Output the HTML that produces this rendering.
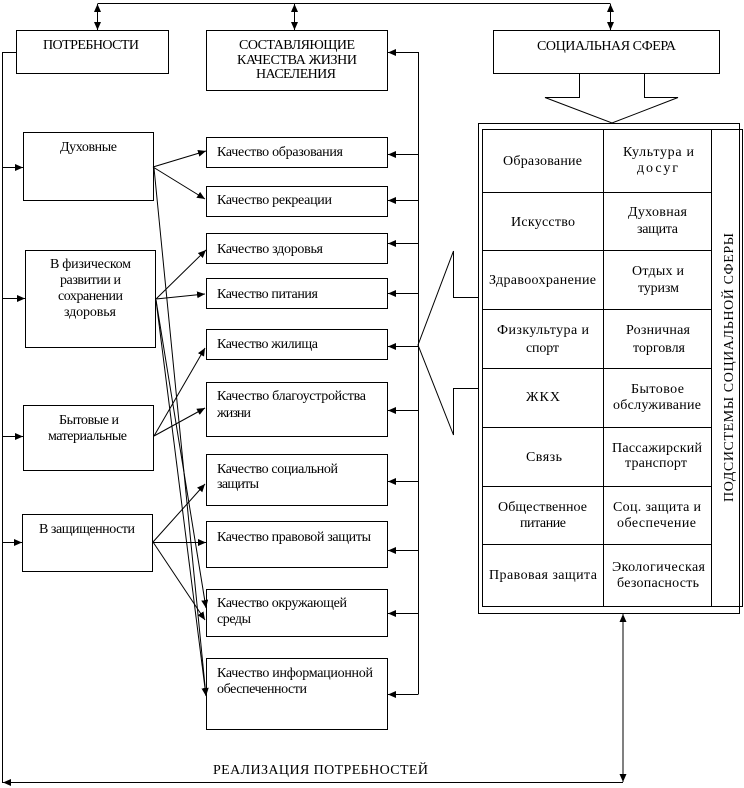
<!DOCTYPE html>
<html><head><meta charset="utf-8"><style>
html,body{margin:0;padding:0;background:#fff;}
svg{display:block;}
text{font-family:"Liberation Serif","DejaVu Serif",serif;font-size:14px;fill:#000;}
</style></head><body>
<svg width="744" height="788" viewBox="0 0 744 788" xmlns="http://www.w3.org/2000/svg">
<defs>
<marker id="a" markerUnits="userSpaceOnUse" markerWidth="9" markerHeight="8" refX="8" refY="3.5" orient="auto-start-reverse"><path d="M0,0 L8,3.5 L0,7 z" fill="#000"/></marker>
</defs>
<g fill="none" stroke="#000" stroke-width="1" shape-rendering="crispEdges">
<rect x="16.5" y="30.5" width="152" height="43"/>
<rect x="206.5" y="30.5" width="181" height="60"/>
<rect x="493.5" y="30.5" width="226" height="43"/>
<rect x="23.5" y="132.5" width="130" height="68"/>
<rect x="25.5" y="250.5" width="130" height="97"/>
<rect x="23.5" y="405.5" width="130" height="65"/>
<rect x="22.5" y="514.5" width="130" height="57"/>
<rect x="206.5" y="137.5" width="181" height="30"/>
<rect x="206.5" y="186.5" width="181" height="30"/>
<rect x="206.5" y="233.5" width="181" height="30"/>
<rect x="206.5" y="278.5" width="181" height="30"/>
<rect x="206.5" y="329.5" width="181" height="30"/>
<rect x="206.5" y="382.5" width="181" height="54"/>
<rect x="206.5" y="454.5" width="181" height="51"/>
<rect x="206.5" y="521.5" width="181" height="46"/>
<rect x="206.5" y="589.5" width="181" height="47"/>
<rect x="206.5" y="658.5" width="181" height="71"/>
<rect x="478.5" y="123.5" width="261" height="490"/>
<rect x="482.5" y="129.5" width="260" height="477"/>
<line x1="603.5" y1="129" x2="603.5" y2="606"/>
<line x1="711.5" y1="129" x2="711.5" y2="606"/>
<line x1="482" y1="192.5" x2="711" y2="192.5"/>
<line x1="482" y1="250.5" x2="711" y2="250.5"/>
<line x1="482" y1="309.5" x2="711" y2="309.5"/>
<line x1="482" y1="368.5" x2="711" y2="368.5"/>
<line x1="482" y1="427.5" x2="711" y2="427.5"/>
<line x1="482" y1="486.5" x2="711" y2="486.5"/>
<line x1="482" y1="544.5" x2="711" y2="544.5"/>
<polyline points="97.5,3.5 610.5,3.5"/>
<polyline points="16,52.5 2.5,52.5 2.5,782.5 623,782.5"/>
<polyline points="418.5,52 418.5,694.5"/>
</g>
<g fill="none" stroke="#000" stroke-width="1">
<polyline points="579.5,73 579.5,97.5 545,97.5 612,123 678,97.5 644.5,97.5 644.5,73"/>
<polyline points="478,297.5 453.5,297.5 453.5,251 418,345 453.5,435 453.5,388.5 478,388.5"/>
</g>
<g fill="none" stroke="#000" stroke-width="1" marker-end="url(#a)">
<line x1="97.5" y1="4" x2="97.5" y2="30" marker-start="url(#a)"/>
<line x1="294.5" y1="4" x2="294.5" y2="30" marker-start="url(#a)"/>
<line x1="610.5" y1="4" x2="610.5" y2="30" marker-start="url(#a)"/>
<line x1="623" y1="614" x2="623" y2="782" marker-start="url(#a)"/>
<line x1="20" y1="782.5" x2="3" y2="782.5"/>
<line x1="2.5" y1="167.5" x2="23" y2="167.5"/>
<line x1="2.5" y1="298.5" x2="25" y2="298.5"/>
<line x1="2.5" y1="436.5" x2="23" y2="436.5"/>
<line x1="2.5" y1="542.5" x2="22" y2="542.5"/>
<line x1="418" y1="52.5" x2="388" y2="52.5"/>
<line x1="418" y1="154.5" x2="388" y2="154.5"/>
<line x1="418" y1="200.5" x2="388" y2="200.5"/>
<line x1="418" y1="243.5" x2="388" y2="243.5"/>
<line x1="418" y1="293.5" x2="388" y2="293.5"/>
<line x1="418" y1="346.5" x2="388" y2="346.5"/>
<line x1="418" y1="410.5" x2="388" y2="410.5"/>
<line x1="418" y1="481.5" x2="388" y2="481.5"/>
<line x1="418" y1="550.5" x2="388" y2="550.5"/>
<line x1="418" y1="613.5" x2="388" y2="613.5"/>
<line x1="418" y1="694.5" x2="388" y2="694.5"/>
<line x1="153" y1="167" x2="206" y2="151"/>
<line x1="153" y1="167" x2="205" y2="199"/>
<line x1="154" y1="168" x2="206" y2="696"/>
<line x1="156" y1="299" x2="206" y2="250"/>
<line x1="156" y1="299" x2="205" y2="294"/>
<line x1="156" y1="300" x2="206" y2="608"/>
<line x1="156" y1="300" x2="206" y2="696"/>
<line x1="154" y1="436" x2="205" y2="348"/>
<line x1="154" y1="436" x2="205" y2="408"/>
<line x1="153" y1="542" x2="205" y2="484"/>
<line x1="153" y1="542.5" x2="206" y2="542.5"/>
<line x1="153" y1="542" x2="205" y2="620"/>
</g>
<g>
<text x="43" y="49" textLength="96" lengthAdjust="spacing">ПОТРЕБНОСТИ</text>
<text x="239" y="49" textLength="116" lengthAdjust="spacing">СОСТАВЛЯЮЩИЕ</text>
<text x="237" y="64" textLength="120" lengthAdjust="spacing">КАЧЕСТВА ЖИЗНИ</text>
<text x="256" y="78" textLength="80" lengthAdjust="spacing">НАСЕЛЕНИЯ</text>
<text x="537" y="50" textLength="139" lengthAdjust="spacing">СОЦИАЛЬНАЯ СФЕРА</text>

<text x="60" y="151" textLength="57" lengthAdjust="spacing">Духовные</text>
<text x="50" y="268" textLength="81" lengthAdjust="spacing">В физическом</text>
<text x="60" y="284" textLength="61" lengthAdjust="spacing">развитии и</text>
<text x="58" y="300" textLength="65" lengthAdjust="spacing">сохранении</text>
<text x="64" y="316" textLength="52" lengthAdjust="spacing">здоровья</text>
<text x="59" y="424" textLength="60" lengthAdjust="spacing">Бытовые и</text>
<text x="48" y="440" textLength="79" lengthAdjust="spacing">материальные</text>
<text x="39" y="533" textLength="96" lengthAdjust="spacing">В защищенности</text>

<text x="217" y="156" textLength="126" lengthAdjust="spacing">Качество образования</text>
<text x="217" y="204" textLength="115" lengthAdjust="spacing">Качество рекреации</text>
<text x="217" y="253" textLength="106" lengthAdjust="spacing">Качество здоровья</text>
<text x="217" y="298" textLength="101" lengthAdjust="spacing">Качество питания</text>
<text x="217" y="348" textLength="101" lengthAdjust="spacing">Качество жилища</text>
<text x="217" y="400" textLength="149" lengthAdjust="spacing">Качество благоустройства</text>
<text x="217" y="417" textLength="34" lengthAdjust="spacing">жизни</text>
<text x="217" y="473" textLength="121" lengthAdjust="spacing">Качество социальной</text>
<text x="217" y="488" textLength="42" lengthAdjust="spacing">защиты</text>
<text x="217" y="541" textLength="154" lengthAdjust="spacing">Качество правовой защиты</text>
<text x="217" y="607" textLength="130" lengthAdjust="spacing">Качество окружающей</text>
<text x="217" y="623" textLength="34" lengthAdjust="spacing">среды</text>
<text x="217" y="677" textLength="156" lengthAdjust="spacing">Качество информационной</text>
<text x="217" y="693" textLength="90" lengthAdjust="spacing">обеспеченности</text>

<text x="213" y="774" textLength="215" lengthAdjust="spacing">РЕАЛИЗАЦИЯ ПОТРЕБНОСТЕЙ</text>

<text x="503" y="165" textLength="79" lengthAdjust="spacing">Образование</text>
<text x="623" y="156" textLength="71" lengthAdjust="spacing">Культура и</text>
<text x="637" y="172" textLength="41" lengthAdjust="spacing">досуг</text>
<text x="511" y="226" textLength="64" lengthAdjust="spacing">Искусство</text>
<text x="628" y="216" textLength="59" lengthAdjust="spacing">Духовная</text>
<text x="637" y="233" textLength="41" lengthAdjust="spacing">защита</text>
<text x="489" y="284" textLength="107" lengthAdjust="spacing">Здравоохранение</text>
<text x="632" y="275" textLength="52" lengthAdjust="spacing">Отдых и</text>
<text x="638" y="292" textLength="41" lengthAdjust="spacing">туризм</text>
<text x="497" y="334" textLength="92" lengthAdjust="spacing">Физкультура и</text>
<text x="526" y="352" textLength="33" lengthAdjust="spacing">спорт</text>
<text x="626" y="334" textLength="64" lengthAdjust="spacing">Розничная</text>
<text x="633" y="352" textLength="52" lengthAdjust="spacing">торговля</text>
<text x="526" y="401" textLength="34" lengthAdjust="spacing">ЖКХ</text>
<text x="631" y="393" textLength="53" lengthAdjust="spacing">Бытовое</text>
<text x="613" y="409" textLength="88" lengthAdjust="spacing">обслуживание</text>
<text x="526" y="461" textLength="36" lengthAdjust="spacing">Связь</text>
<text x="612" y="452" textLength="90" lengthAdjust="spacing">Пассажирский</text>
<text x="625" y="467" textLength="62" lengthAdjust="spacing">транспорт</text>
<text x="498" y="511" textLength="89" lengthAdjust="spacing">Общественное</text>
<text x="520" y="527" textLength="46" lengthAdjust="spacing">питание</text>
<text x="613" y="511" textLength="88" lengthAdjust="spacing">Соц. защита и</text>
<text x="617" y="527" textLength="79" lengthAdjust="spacing">обеспечение</text>
<text x="489" y="579" textLength="108" lengthAdjust="spacing">Правовая защита</text>
<text x="612" y="571" textLength="93" lengthAdjust="spacing">Экологическая</text>
<text x="617" y="587" textLength="82" lengthAdjust="spacing">безопасность</text>

<text transform="translate(733,502) rotate(-90)" x="0" y="0" textLength="269" lengthAdjust="spacing">ПОДСИСТЕМЫ СОЦИАЛЬНОЙ СФЕРЫ</text>
</g>
</svg>
</body></html>
